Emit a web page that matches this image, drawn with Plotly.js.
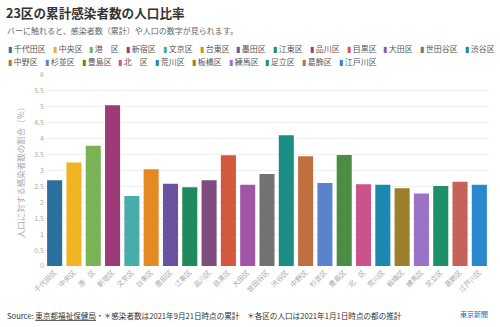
<!DOCTYPE html>
<html><head><meta charset="utf-8">
<script src="https://cdn.plot.ly/plotly-3.0.1.min.js"></script>
<style>html,body{margin:0;padding:0;background:#fff}#chart{width:500px;height:327px}</style>
</head><body><div id="chart"></div>
<script>
const wards = ["千代田区","中央区","港　区","新宿区","文京区","台東区","墨田区","江東区","品川区","目黒区","大田区","世田谷区","渋谷区","中野区","杉並区","豊島区","北　区","荒川区","板橋区","練馬区","足立区","葛飾区","江戸川区"];
const ratios = [2.69,3.25,3.78,5.05,2.20,3.04,2.58,2.47,2.69,3.48,2.55,2.89,4.11,3.45,2.61,3.49,2.57,2.55,2.44,2.28,2.51,2.65,2.55];
const colors = ["#2a6f9e","#f0b323","#7ab356","#9c3b78","#48ada9","#e58a22","#6a52a0","#21895e","#7e4c7e","#d4583f","#a155a6","#737373","#1a8e85","#c0703f","#5b83cd","#4d8c45","#c9538a","#1b8ab3","#9c7e2c","#9a72c7","#1e9068","#c5625a","#2a88cc"];
const legendRow1Count = 13;

const FONT = "'Noto Sans CJK JP', 'Noto Sans', sans-serif";
const W = 500;

const trace = {
  type: "bar",
  x: wards,
  y: ratios,
  marker: {color: colors},
  width: 0.78,
  hoverinfo: "x+y"
};

const annotations = [];
// legend built from ward names and colours
function addLegendRow(start, end, yPx) {
  let xPx = 6;
  for (let i = start; i < end; i++) {
    annotations.push({
      xref: "paper", yref: "paper", xanchor: "left", yanchor: "middle",
      x: (xPx - 45) / (W - 45 - 11), y: (266 - yPx) / (266 - 75),
      text: '<span style="color:' + colors[i] + '">▮</span> ' + wards[i],
      showarrow: false, font: {family: FONT, size: 8, color: "#555"}
    });
    xPx += 13.5 + 7.75 * wards[i].length;
  }
}
addLegendRow(0, legendRow1Count, 49);
addLegendRow(legendRow1Count, wards.length, 61);

function pxAnn(text, xPx, yPx, anchor, font) {
  annotations.push({
    xref: "paper", yref: "paper", xanchor: anchor, yanchor: "middle",
    x: (xPx - 45) / (W - 45 - 11), y: (266 - yPx) / (266 - 75),
    text: text, showarrow: false, font: font
  });
}
pxAnn("バーに触れると、感染者数（累計）や人口の数字が見られます。", 5, 30, "left", {family: FONT, size: 8, color: "#666"});
pxAnn("Source: <u>東京都福祉保健局</u>・＊感染者数は2021年9月21日時点の累計　＊各区の人口は2021年1月1日時点の都の推計", 5, 315, "left", {family: FONT, size: 7.6, color: "#333"});
pxAnn("東京新聞", 490, 314, "right", {family: FONT, size: 7, color: "#2f6bb5"});

const layout = {
  width: 500, height: 327,
  margin: {l: 45, r: 11, t: 75, b: 61},
  paper_bgcolor: "#fff", plot_bgcolor: "#fff",
  title: {text: "<b>23区の累計感染者数の人口比率</b>", x: 0.012, xanchor: "left", y: 0.957, yanchor: "middle", font: {family: FONT, size: 12.6, color: "#333"}},
  showlegend: false,
  bargap: 0.22,
  xaxis: {
    tickangle: -45, tickfont: {family: FONT, size: 7, color: "#aaa"},
    showgrid: false, zeroline: false, showline: false, ticks: "", fixedrange: true
  },
  yaxis: {
    range: [0, 6], dtick: 0.5, tickfont: {family: FONT, size: 7, color: "#aaa"},
    gridcolor: "#f0f0f0", zeroline: false, showline: false, ticks: "",
    title: {text: "人口に対する感染者数の割合（%）", font: {family: FONT, size: 8.5, color: "#aaa"}, standoff: 8},
    fixedrange: true
  },
  annotations: annotations
};

Plotly.newPlot("chart", [trace], layout, {displayModeBar: false, staticPlot: false});
</script>
</body></html>
